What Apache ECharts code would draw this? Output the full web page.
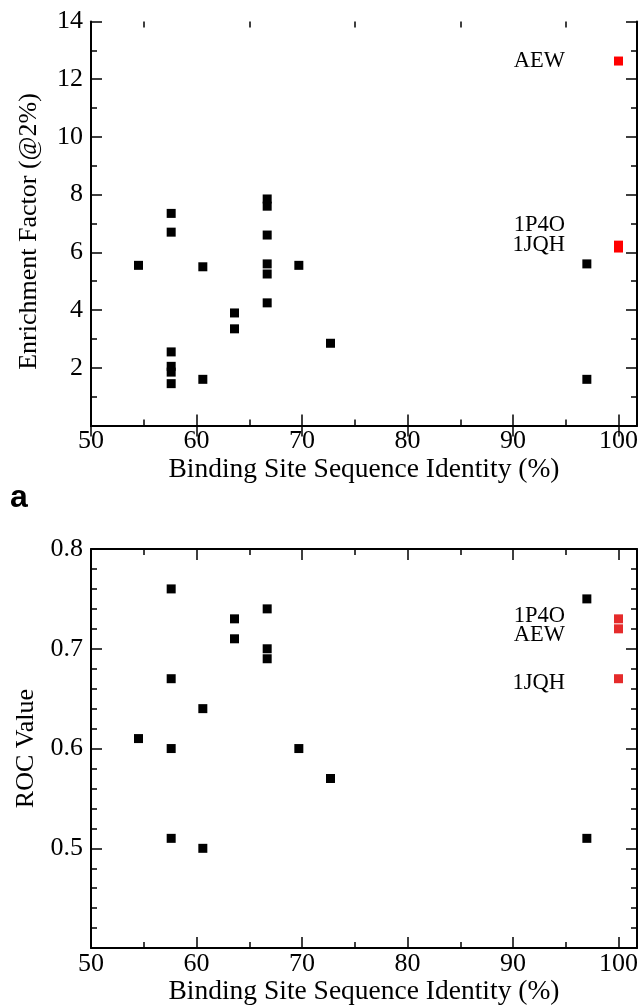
<!DOCTYPE html>
<html><head><meta charset="utf-8">
<script src="https://cdn.jsdelivr.net/npm/echarts@6/dist/echarts.min.js"></script>
<style>html,body{margin:0;padding:0;background:#fff}#c{width:641px;height:1007px}</style>
</head><body><div id="c"></div>
<script>
// ---- data ----
const xMajorTicks = [50, 60, 70, 80, 90, 100];
const xMinorTicks = [55, 65, 75, 85, 95];

// Panel 1: enrichment factor
const efX = [54.5, 57.6, 57.6, 57.6, 57.6, 57.6, 57.6, 60.6, 60.6, 63.6, 63.6,
             66.7, 66.7, 66.7, 66.7, 66.7, 66.7, 69.7, 72.7, 97.0, 97.0];
const efY = [5.55, 7.35, 6.7, 2.55, 2.05, 1.85, 1.45, 5.5, 1.6, 3.9, 3.35,
             7.85, 7.6, 6.6, 5.6, 5.25, 4.25, 5.55, 2.85, 5.6, 1.6];
const efRefNames = ['AEW', '1P4O', '1JQH'];
const efRefX = [100, 100, 100];
const efRefY = [12.63, 6.25, 6.15];

// Panel 2: ROC value
const rocX = [54.5, 57.6, 57.6, 57.6, 57.6, 60.6, 60.6, 63.6, 63.6,
              66.7, 66.7, 66.7, 69.7, 72.7, 97.0, 97.0];
const rocY = [0.61, 0.76, 0.67, 0.60, 0.51, 0.64, 0.50, 0.73, 0.71,
              0.74, 0.70, 0.69, 0.60, 0.57, 0.75, 0.51];
const rocRefNames = ['1P4O', 'AEW', '1JQH'];
const rocRefX = [100, 100, 100];
const rocRefY = [0.73, 0.72, 0.67];

const xTitle = 'Binding Site Sequence Identity (%)';
const efTitle = 'Enrichment Factor (@2%)';
const rocTitle = 'ROC Value';

// ---- styles ----
const FONT = '"Liberation Serif", "Times New Roman", serif';
const X_MIN = 50, X_MAX = 101.75;
const lineStyle = {color: '#000', width: 2};
const tickStyle = {color: '#000', width: 1.5};
const efLabelOffsets = {AEW: [0, 0], '1P4O': [0, -20], '1JQH': [0, -3]};
const rocLabelOffsets = {'1P4O': [0, -3], AEW: [0, 6], '1JQH': [0, 4]};

function xAxesFor(gridIndex) {
  const base = {type: 'value', gridIndex, min: X_MIN, max: X_MAX, splitLine: {show: false}};
  return [
    Object.assign({}, base, {
      position: 'bottom',
      axisLine: {show: true, lineStyle},
      axisTick: {show: true, inside: true, length: 11, customValues: xMajorTicks, lineStyle: tickStyle},
      axisLabel: {show: true, customValues: xMajorTicks, margin: 3, color: '#000', fontFamily: FONT, fontSize: 26},
      name: xTitle, nameLocation: 'middle', nameGap: 27,
      nameTextStyle: {color: '#000', fontFamily: FONT, fontSize: 27.5}
    }),
    Object.assign({}, base, {
      position: 'top',
      axisLine: {show: true, lineStyle},
      axisTick: {show: true, inside: true, length: 11, customValues: xMajorTicks, lineStyle: tickStyle},
      axisLabel: {show: false}
    }),
    Object.assign({}, base, {
      position: 'bottom', // flipped to top (bottom already used)
      axisLine: {show: false},
      axisTick: {show: true, inside: true, length: 6, customValues: xMinorTicks, lineStyle: tickStyle},
      axisLabel: {show: false}
    }),
    Object.assign({}, base, {
      position: 'top', // flipped to bottom
      axisLine: {show: false},
      axisTick: {show: true, inside: true, length: 6, customValues: xMinorTicks, lineStyle: tickStyle},
      axisLabel: {show: false}
    })
  ];
}

function yAxesFor(gridIndex, min, max, interval, minorSplit, title, namePad) {
  const base = {
    type: 'value', gridIndex, min, max, interval,
    splitLine: {show: false},
    axisLine: {show: true, lineStyle},
    axisTick: {show: true, inside: true, length: 11, lineStyle: tickStyle},
    minorTick: {show: true, splitNumber: minorSplit, length: 6, lineStyle: tickStyle},
    minorSplitLine: {show: false}
  };
  return [
    Object.assign({}, base, {
      position: 'left',
      axisLabel: {show: true, showMinLabel: false, margin: 8, color: '#000', fontFamily: FONT, fontSize: 26},
      name: title, nameLocation: 'middle', nameGap: 49, nameRotate: 90,
      nameTextStyle: {color: '#000', fontFamily: FONT, fontSize: 26, padding: namePad}
    }),
    Object.assign({}, base, {position: 'right', axisLabel: {show: false}})
  ];
}

function pts(xs, ys) { return xs.map((x, i) => [x, ys[i]]); }
function refPts(names, xs, ys, offsets) {
  return names.map((n, i) => ({name: n, value: [xs[i], ys[i]], label: {offset: offsets[n]}}));
}

const refLabel = {show: true, position: 'left', distance: 49, formatter: '{b}',
                  color: '#000', fontFamily: FONT, fontSize: 22.5};

const option = {
  animation: false,
  backgroundColor: '#fff',
  grid: [
    {left: 91, right: 4, top: 21.5, height: 404},
    {left: 91, right: 4, top: 549, height: 404}
  ],
  xAxis: [].concat(xAxesFor(0), xAxesFor(1)),
  yAxis: [].concat(
    yAxesFor(0, 0, 14, 2, 2, efTitle, [0, 16, 0, 0]),
    yAxesFor(1, 0.4, 0.8, 0.1, 5, rocTitle, [0, 0, 0, 0])
  ),
  series: [
    {type: 'scatter', xAxisIndex: 0, yAxisIndex: 0, symbol: 'rect', symbolSize: 9,
     itemStyle: {color: '#000', opacity: 1}, data: pts(efX, efY)},
    {type: 'scatter', xAxisIndex: 0, yAxisIndex: 0, symbol: 'rect', symbolSize: 9, z: 3,
     itemStyle: {color: '#ff0000', opacity: 1}, label: refLabel,
     data: refPts(efRefNames, efRefX, efRefY, efLabelOffsets)},
    {type: 'scatter', xAxisIndex: 4, yAxisIndex: 2, symbol: 'rect', symbolSize: 9,
     itemStyle: {color: '#000', opacity: 1}, data: pts(rocX, rocY)},
    {type: 'scatter', xAxisIndex: 4, yAxisIndex: 2, symbol: 'rect', symbolSize: 9, z: 3,
     itemStyle: {color: '#e52b2b', opacity: 1}, label: refLabel,
     data: refPts(rocRefNames, rocRefX, rocRefY, rocLabelOffsets)}
  ],
  graphic: [
    {type: 'text', left: 10, top: 482,
     style: {text: 'a', fill: '#000', font: 'bold 32px "Liberation Sans", Arial, sans-serif'}}
  ]
};

const chart = echarts.init(document.getElementById('c'), null, {renderer: 'canvas'});
chart.setOption(option);
</script>
</body></html>
